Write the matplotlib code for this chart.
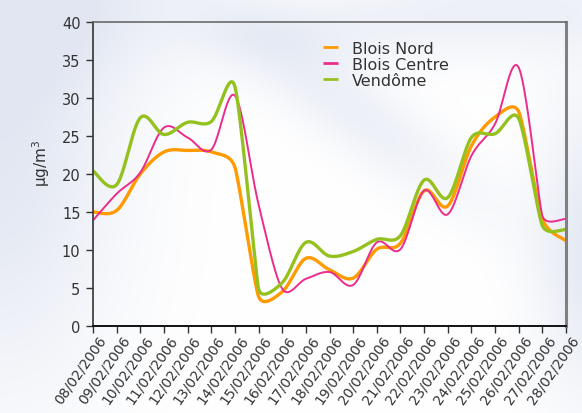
import numpy as np
import matplotlib
matplotlib.use("Agg")
import matplotlib.pyplot as plt
from matplotlib.transforms import ScaledTranslation

dates = ['08/02/2006', '09/02/2006', '10/02/2006', '11/02/2006', '12/02/2006',
         '13/02/2006', '14/02/2006', '15/02/2006', '16/02/2006', '17/02/2006',
         '18/02/2006', '19/02/2006', '20/02/2006', '21/02/2006', '22/02/2006',
         '23/02/2006', '24/02/2006', '25/02/2006', '26/02/2006', '27/02/2006',
         '28/02/2006']
blois_nord = [15.0, 15.2, 20.0, 22.9, 23.1, 22.9, 20.9, 3.9, 4.5, 8.9, 7.4,
              6.3, 10.1, 10.9, 17.8, 15.8, 23.7, 27.5, 28.2, 14.1, 11.2]
blois_centre = [13.9, 17.4, 20.2, 26.1, 24.8, 23.2, 30.3, 16.0, 4.9, 6.2, 7.1,
                5.4, 11.0, 10.1, 17.8, 14.7, 22.4, 26.6, 34.0, 14.5, 14.1]
vendome = [20.4, 18.6, 27.4, 25.2, 26.8, 26.9, 31.5, 4.9, 5.7, 11.0, 9.2,
           9.8, 11.4, 11.9, 19.2, 16.9, 24.8, 25.3, 27.3, 13.2, 12.7]
series_names = ['Blois Nord', 'Blois Centre', 'Vendôme']
y_ticks = [0, 5, 10, 15, 20, 25, 30, 35, 40]

W, H = 582, 414
AX_L, AX_R, AX_T, AX_B = 93, 566, 23, 327


def smooth(x, y, sx_px, sy_px, n=40):
    """Excel-like smoothed line: Bezier segments with capped Catmull-Rom tangents,
    computed in screen (pixel) space."""
    P = np.column_stack([np.asarray(x, float) * sx_px, np.asarray(y, float) * sy_px])
    m = len(P)
    Pe = np.vstack([P[0], P, P[-1]])
    tang = []
    for i in range(1, m + 1):
        p0, p1, p2 = Pe[i - 1], Pe[i], Pe[i + 1]
        d = p2 - p0
        d02 = np.hypot(*d)
        d01 = np.hypot(*(p1 - p0))
        d12 = np.hypot(*(p2 - p1))
        f = 1.0 / 6.0
        lim = [v for v in (d01, d12) if v > 0]
        if d02 > 0 and lim:
            cap = min(lim) / 2.0
            if d02 * f > cap:
                f = cap / d02
        tang.append(d * f)
    tang = np.array(tang)
    out = []
    t = np.linspace(0, 1, n)[:, None]
    for i in range(m - 1):
        p1, p2 = P[i], P[i + 1]
        c1 = p1 + tang[i]
        c2 = p2 - tang[i + 1]
        seg = ((1 - t) ** 3) * p1 + 3 * ((1 - t) ** 2) * t * c1 + 3 * (1 - t) * t ** 2 * c2 + t ** 3 * p2
        out.append(seg if i == 0 else seg[1:])
    out = np.vstack(out)
    return out[:, 0] / sx_px, out[:, 1] / sy_px


fig = plt.figure(figsize=(W / 100, H / 100), dpi=100)

# background soft gradient
yy, xx = np.mgrid[0:H, 0:W].astype(float)
t = np.zeros((H, W))


def blob(cx, cy, sx, sy, amp, ang=0.0):
    a = np.deg2rad(ang)
    dx = xx - cx
    dy = yy - cy
    u = dx * np.cos(a) + dy * np.sin(a)
    v = -dx * np.sin(a) + dy * np.cos(a)
    return amp * np.exp(-0.5 * ((u / sx) ** 2 + (v / sy) ** 2))


t += blob(0, 150, 85, 170, 0.95)
t += blob(40, 0, 110, 60, 0.7)
t += blob(350, 110, 120, 28, 0.6, 36)
t += blob(500, 10, 130, 35, 0.6)
t += blob(590, 250, 40, 110, 0.85)
t += blob(300, 35, 80, 25, 0.35)
t = np.clip(t, 0, 1)
tint = np.array([0.885, 0.905, 0.95])
img = (1 - t[..., None]) * np.array([1.0, 1.0, 1.0]) + t[..., None] * tint
fig.figimage(img, xo=0, yo=0, origin='upper', zorder=-10)

ax = fig.add_axes([AX_L / W, 1 - AX_B / H, (AX_R - AX_L) / W, (AX_B - AX_T) / H])
ax.set_facecolor('none')

x = np.arange(len(dates))
px_x = (AX_R - AX_L) / (len(dates) - 1)
px_y = (AX_B - AX_T) / 40.0
styles = [
    (blois_nord, '#FF9A00', 2.4),
    (blois_centre, '#EC2C8C', 1.4),
    (vendome, '#95C11F', 2.4),
]
for (vals, col, lw), name in zip(styles, series_names):
    sx, sy = smooth(x, vals, px_x, px_y)
    ax.plot(sx, sy, color=col, lw=lw, label=name, solid_capstyle='butt')

ax.set_xlim(0, len(dates) - 1)
ax.set_ylim(0, 40)
ax.set_yticks(y_ticks)
ax.set_yticklabels([str(v) for v in y_ticks])
ax.set_xticks(x)
ax.set_xticklabels([])
ax.tick_params(axis='x', direction='out', length=5, width=1, color='#333333')
off = ScaledTranslation(16 / 100, -7 / 100, fig.dpi_scale_trans)
xt = ax.get_xaxis_transform() + off
for i, d in enumerate(dates):
    ax.text(x[i], 0, d, transform=xt, rotation=55, ha='right', va='top',
            fontsize=10, color='#333333', clip_on=False)

ax.tick_params(axis='y', direction='out', length=5, width=1, color='#333333',
               labelsize=10.5, labelcolor='#333333', pad=4)

ax.spines['left'].set_color('#333333')
ax.spines['left'].set_linewidth(1.2)
ax.spines['bottom'].set_color('#111111')
ax.spines['bottom'].set_linewidth(1.4)
ax.spines['top'].set_color('#6a6a6a')
ax.spines['top'].set_linewidth(1.2)
ax.spines['right'].set_color('#808080')
ax.spines['right'].set_linewidth(2.2)

ax.set_ylabel('µg/m$^{3}$', fontsize=11, color='#333333')
ax.yaxis.set_label_coords((52 - AX_L) / (AX_R - AX_L), (AX_B - 163) / (AX_B - AX_T))

leg = ax.legend(loc='upper left',
                bbox_to_anchor=((323 - AX_L) / (AX_R - AX_L), (AX_B - 42) / (AX_B - AX_T)),
                frameon=False, fontsize=11.5, handlelength=0.95, handletextpad=0.85,
                labelspacing=0.05, borderpad=0, borderaxespad=0)
for txt in leg.get_texts():
    txt.set_color('#333333')
for h in leg.get_lines():
    h.set_linewidth(2.0)

fig.savefig('out.png', dpi=100)
